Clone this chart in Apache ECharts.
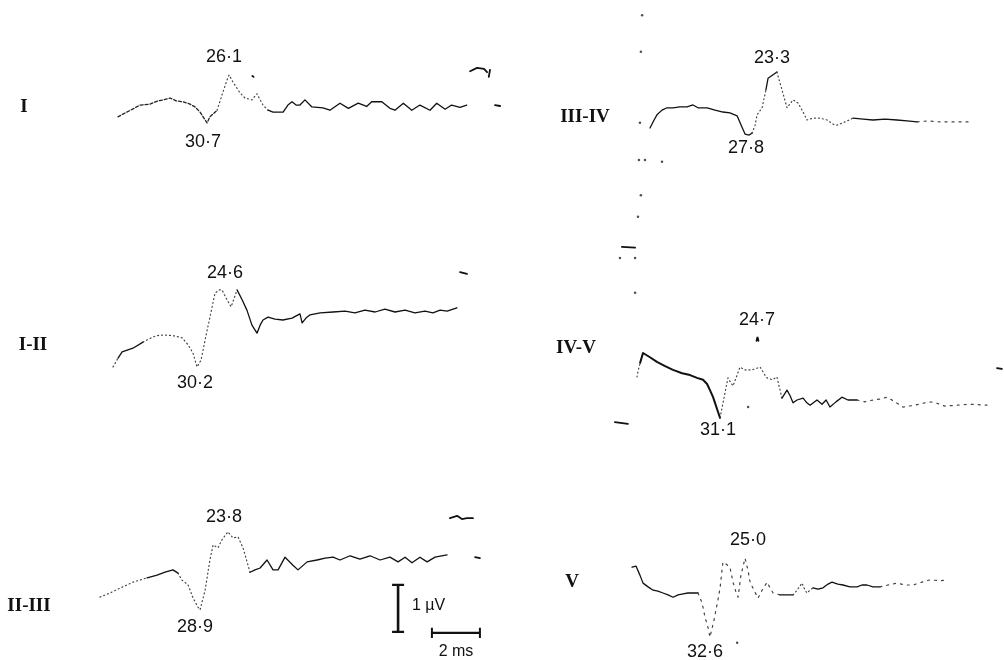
<!DOCTYPE html>
<html><head><meta charset="utf-8">
<script src="https://cdn.jsdelivr.net/npm/echarts@6/dist/echarts.min.js"></script>
<style>html,body{margin:0;padding:0;background:#fff}#c{width:1004px;height:660px}</style>
</head><body><div id="c"></div><script>
// ---------------- DATA (time in ms from trace start, amplitude in µV) ----------------
const traceNames   = ['I', 'I-II', 'II-III', 'III-IV', 'IV-V', 'V'];
const peakLabels   = ['26·1', '24·6', '23·8', '23·3', '24·7', '25·0'];
const troughLabels = ['30·7', '30·2', '28·9', '27·8', '31·1', '32·6'];

const traceI = [[0,-0.23],[0.29,-0.15],[0.63,-0.06],[0.92,0.02],[1.33,0.04],[1.67,0.11],[1.88,0.13],[2.17,0.17],[2.42,0.11],[2.71,0.09],[3.0,0.04],[3.21,-0.02],[3.42,-0.13],[3.71,-0.36],[3.83,-0.23],[4.13,-0.09],[4.33,0.23],[4.54,0.55],[4.63,0.66],[4.79,0.51],[5.08,0.28],[5.29,0.17],[5.58,0.13],[5.79,0.26],[6.04,0.02],[6.25,-0.09],[6.46,-0.13],[6.88,-0.13],[7.08,0.02],[7.25,0.09],[7.42,0.02],[7.58,0.02],[7.79,0.13],[8.08,-0.02],[8.54,-0.04],[8.83,-0.09],[9.25,0.06],[9.6,-0.05],[10.01,0.06],[10.36,-0.01],[10.57,0.09],[10.99,0.09],[11.33,-0.05],[11.54,-0.09],[11.89,0.06],[12.24,-0.09],[12.58,0.02],[13.0,-0.09],[13.28,0.06],[13.63,-0.07],[13.9,0.02],[14.25,-0.03],[14.53,0.02]];
const fragmentsI = [[[5.6,0.64],[5.65,0.62]],[[14.67,0.74],[14.96,0.81],[15.25,0.79],[15.38,0.72]],[[15.5,0.77],[15.45,0.62]],[[15.71,0.02],[15.92,0.0]]];

const traceI_II = [[0,-1.17],[0.21,-0.98],[0.38,-0.85],[0.83,-0.77],[1.25,-0.64],[1.67,-0.53],[1.96,-0.49],[2.25,-0.49],[2.58,-0.51],[2.88,-0.55],[3.13,-0.70],[3.33,-0.87],[3.5,-1.17],[3.67,-1.02],[3.88,-0.49],[4.04,-0.11],[4.25,0.40],[4.42,0.47],[4.54,0.47],[4.75,0.26],[4.92,0.11],[5.17,0.47],[5.38,0.26],[5.58,0.04],[5.79,-0.28],[6.0,-0.45],[6.13,-0.28],[6.25,-0.17],[6.46,-0.11],[6.75,-0.15],[7.08,-0.17],[7.46,-0.13],[7.79,-0.04],[7.88,-0.23],[8.04,-0.13],[8.21,-0.06],[8.63,-0.02],[9.17,0],[9.67,0.02],[10.08,-0.02],[10.5,0.04],[10.92,0],[11.33,0.06],[11.75,0],[12.17,0.04],[12.58,-0.02],[13.0,0.02],[13.33,-0.02],[13.63,0.04],[13.92,0.02],[14.33,0.09]];
const fragmentsI_II = [[[14.46,0.85],[14.75,0.81]]];

const traceII_III = [[0,-0.79],[0.42,-0.70],[0.83,-0.60],[1.38,-0.47],[1.96,-0.38],[2.38,-0.32],[2.71,-0.26],[3.04,-0.21],[3.25,-0.28],[3.42,-0.43],[3.67,-0.53],[3.88,-0.81],[4.08,-1.0],[4.17,-1.06],[4.38,-0.64],[4.58,0],[4.71,0.32],[4.92,0.26],[5.08,0.43],[5.33,0.60],[5.54,0.47],[5.75,0.49],[5.96,0.26],[6.25,-0.26],[6.46,-0.21],[6.67,-0.17],[6.96,0],[7.21,-0.21],[7.42,-0.21],[7.71,0.06],[8.04,-0.11],[8.25,-0.21],[8.63,-0.04],[9.04,0],[9.38,0.04],[9.71,0.06],[10.0,0],[10.42,0.09],[10.83,0.02],[11.25,0.09],[11.67,0],[12.08,0.06],[12.42,-0.04],[12.71,0.06],[13.0,-0.06],[13.33,0.06],[13.63,-0.04],[13.96,0.06],[14.46,0.11]];
const fragmentsII_III = [[[14.58,0.89],[14.88,0.94],[15.08,0.87],[15.29,0.89],[15.54,0.89]],[[15.63,0.06],[15.83,0.04]]];

const traceIII_IV = [[0,-0.17],[0.17,0],[0.29,0.11],[0.5,0.21],[0.71,0.26],[0.96,0.26],[1.25,0.28],[1.54,0.28],[1.79,0.32],[2.0,0.26],[2.38,0.26],[2.71,0.21],[3.04,0.17],[3.33,0.15],[3.63,0.09],[3.83,-0.15],[3.96,-0.30],[4.13,-0.32],[4.25,-0.28],[4.38,-0.11],[4.46,0.11],[4.67,0.26],[4.83,0.64],[4.92,0.89],[5.29,1.02],[5.5,0.64],[5.71,0.26],[5.83,0.34],[5.96,0.43],[6.17,0.36],[6.38,0.17],[6.54,0],[6.79,0.04],[7.08,0.04],[7.38,0],[7.63,-0.09],[7.79,-0.11],[8.13,-0.04],[8.46,0.04],[8.88,0.02],[9.29,0],[9.79,0.02],[10.29,0],[10.71,-0.02],[11.13,-0.04],[11.58,-0.02],[12.08,-0.04],[12.71,-0.04],[13.46,-0.04]];
const fragmentsIII_IV = [];
const specksIII_IV = [[-0.33,2.23],[-0.38,1.45],[-0.42,-0.06],[-0.46,-0.85],[-0.21,-0.85],[0.5,-0.89],[-0.38,-1.6],[-0.5,-2.06]];

const traceIV_V = [[0,0.49],[0.04,0.6],[0.13,0.79],[0.25,1.0],[0.54,0.91],[0.83,0.81],[1.17,0.72],[1.5,0.64],[1.88,0.57],[2.21,0.53],[2.5,0.47],[2.75,0.43],[2.92,0.34],[3.04,0.21],[3.17,0.06],[3.25,-0.06],[3.38,-0.26],[3.46,-0.38],[3.79,0.47],[3.92,0.36],[4.0,0.30],[4.17,0.53],[4.29,0.70],[4.5,0.64],[4.79,0.64],[5.13,0.70],[5.33,0.53],[5.42,0.47],[5.63,0.43],[5.83,0.49],[6.04,0.04],[6.25,0.21],[6.38,0.09],[6.5,-0.06],[6.67,0],[6.92,0.04],[7.08,-0.06],[7.21,-0.11],[7.5,0],[7.71,-0.09],[7.88,0],[8.04,-0.15],[8.29,-0.04],[8.54,0.06],[8.79,0],[9.17,0],[9.5,-0.04],[9.83,0],[10.13,0.02],[10.42,0.06],[10.75,-0.04],[11.08,-0.15],[11.58,-0.11],[12.0,-0.06],[12.33,-0.04],[12.83,-0.13],[13.33,-0.11],[13.88,-0.09],[14.58,-0.11]];
const fragmentsIV_V = [[[-0.63,3.26],[-0.08,3.24]],[[-0.92,-0.47],[-0.38,-0.51]],[[15.0,0.68],[15.2,0.66]],[[4.98,1.26],[5.02,1.34],[5.06,1.26]]];
const specksIV_V = [[-0.71,3.02],[-0.08,3.02],[-0.08,2.28],[4.63,-0.15]];

const traceV = [[0,0.38],[0.17,0.40],[0.33,0.21],[0.46,0.04],[0.67,-0.04],[0.88,-0.11],[1.08,-0.13],[1.29,-0.17],[1.5,-0.21],[1.71,-0.26],[1.92,-0.21],[2.13,-0.19],[2.33,-0.17],[2.54,-0.17],[2.75,-0.17],[2.92,-0.38],[3.04,-0.68],[3.17,-0.91],[3.25,-1.11],[3.42,-0.74],[3.58,-0.32],[3.67,-0.06],[3.79,0.49],[3.96,0.43],[4.08,0.38],[4.21,0.06],[4.33,-0.15],[4.42,-0.26],[4.54,0.21],[4.71,0.57],[4.83,0.32],[4.92,0.06],[5.08,-0.11],[5.25,-0.28],[5.42,-0.11],[5.63,0.06],[5.75,-0.06],[5.88,-0.17],[6.17,-0.21],[6.46,-0.21],[6.71,-0.21],[6.88,-0.11],[7.08,0.04],[7.21,-0.11],[7.29,-0.17],[7.42,-0.11],[7.54,-0.06],[7.75,-0.09],[7.96,-0.06],[8.17,0.02],[8.33,0.06],[8.58,0.02],[8.79,0],[9.08,-0.04],[9.38,-0.04],[9.58,0],[9.79,0],[10.04,-0.04],[10.33,-0.04],[10.67,0],[11.04,0.04],[11.38,0],[11.71,0],[12.08,0.06],[12.42,0.11],[12.83,0.09],[13.17,0.11]];
const fragmentsV = [];
const specksV = [[4.38,-1.23]];

const scaleAmplitudeUV = 1;   // scale bar: 1 µV
const scaleTimeMS = 2;        // scale bar: 2 ms

// ---------------- LAYOUT / STYLE ----------------
const W = 1004, PX_MS = 24, PX_UV = 47;
const traces = [traceI, traceI_II, traceII_III, traceIII_IV, traceIV_V, traceV];
const fragments = [fragmentsI, fragmentsI_II, fragmentsII_III, fragmentsIII_IV, fragmentsIV_V, fragmentsV];
const specks = [[], [], [], specksIII_IV, specksIV_V, specksV];
const layout = [
  {x0:118, y0:106, vmin:-1.5, vmax:2.0, ranges:[[0,15,'dashed'],[15,25,'dotted'],[25,null,'solid']],
   name:[24,107], peak:[224,57], trough:[203,142]},
  {x0:113, y0:312, vmin:-1.6, vmax:1.3, ranges:[[0,1,'dotted'],[1,4,'solid'],[4,21,'dotted'],[21,null,'solid']],
   name:[33,345], peak:[225,273], trough:[195,383]},
  {x0:100, y0:560, vmin:-1.9, vmax:1.2, ranges:[[0,4,'dotted'],[4,8,'solid'],[8,23,'dotted'],[23,null,'solid']],
   name:[29,606], peak:[224,517], trough:[195,627]},
  {x0:650, y0:120, vmin:-2.3, vmax:2.4, ranges:[[0,18,'solid'],[18,22,'dotted'],[22,24,'solid'],[24,38,'dotted'],[38,44,'solid'],[44,null,'sparse']],
   name:[585,117], peak:[772,58], trough:[746,148]},
  {x0:637, y0:400, vmin:-1.0, vmax:3.5, ranges:[[0,2,'dotted'],[2,17,'bold'],[17,30,'dotted'],[30,45,'solid'],[45,null,'sparse']],
   name:[576,348], peak:[757,320], trough:[718,430]},
  {x0:632, y0:585, vmin:-1.5, vmax:0.9, ranges:[[0,14,'solid'],[14,38,'sparse'],[38,40,'solid'],[40,46,'dotted'],[46,58,'solid'],[58,null,'sparse']],
   name:[572,582], peak:[748,540], trough:[705,652]}
];
const styles = {
  solid:  {width:1.3, type:'solid', color:'#111'},
  bold:   {width:2.0, type:'solid', color:'#111'},
  dashed: {width:1.3, type:[3,2], color:'#222'},
  dotted: {width:1.2, type:[1,3], color:'#444'},
  sparse: {width:1.2, type:[2,5], color:'#444'}
};
const scaleAnchor = {grid:2, t:12.42, v:-0.53, ht:13.83, hv:-1.55};

const grids = [], xAxes = [], yAxes = [], series = [];
layout.forEach((L, i) => {
  const left = L.x0 - PX_MS;
  const width = Math.min(18 * PX_MS, W - left);   // keep each grid inside the canvas
  grids.push({left: left, top: L.y0 - L.vmax * PX_UV, width: width,
              height: (L.vmax - L.vmin) * PX_UV, containLabel:false});
  xAxes.push({type:'value', gridIndex:i, min:-1, max:-1 + width / PX_MS, show:false});
  yAxes.push({type:'value', gridIndex:i, min:L.vmin, max:L.vmax, show:false});
  const data = traces[i];
  L.ranges.forEach(([a, b, st]) => {
    const end = b === null ? data.length - 1 : b;
    series.push({type:'line', xAxisIndex:i, yAxisIndex:i, data:data.slice(a, end + 1),
      showSymbol:false, symbol:'none', silent:true, clip:false, animation:false,
      lineStyle:Object.assign({}, styles[st], {cap:'round', join:'round'})});
  });
  fragments[i].forEach(f => series.push({type:'line', xAxisIndex:i, yAxisIndex:i, data:f,
      symbol:'none', silent:true, clip:false, animation:false,
      lineStyle:{width:1.8, color:'#111', cap:'round'}}));
  if (specks[i].length) series.push({type:'scatter', xAxisIndex:i, yAxisIndex:i, data:specks[i],
      symbolSize:2.5, silent:true, animation:false, itemStyle:{color:'#222'}});
});

// scale bar (1 µV vertical, 2 ms horizontal)
const sa = scaleAnchor, gi = sa.grid;
const capT = 0.25, capV = 0.11;
const barLines = [
  {d:[[sa.t, sa.v],[sa.t, sa.v - scaleAmplitudeUV]], w:2.6},
  {d:[[sa.t - capT, sa.v],[sa.t + capT, sa.v]], w:2.2},
  {d:[[sa.t - capT, sa.v - scaleAmplitudeUV],[sa.t + capT, sa.v - scaleAmplitudeUV]], w:2.2},
  {d:[[sa.ht, sa.hv],[sa.ht + scaleTimeMS, sa.hv]], w:2.2},
  {d:[[sa.ht, sa.hv + capV],[sa.ht, sa.hv - capV]], w:2.0},
  {d:[[sa.ht + scaleTimeMS, sa.hv + capV],[sa.ht + scaleTimeMS, sa.hv - capV]], w:2.0}
];
barLines.forEach(b => series.push({type:'line', xAxisIndex:gi, yAxisIndex:gi, data:b.d, symbol:'none',
  silent:true, clip:false, animation:false, lineStyle:{width:b.w, color:'#111'}}));

// texts
const graphic = [];
const sans = '"Liberation Sans", Arial, sans-serif';
const serif = '"Liberation Serif", "Times New Roman", serif';
layout.forEach((L, i) => {
  graphic.push({type:'text', x:L.name[0], y:L.name[1], style:{text:traceNames[i],
    font:'bold 19px ' + serif, fill:'#111', align:'center', verticalAlign:'middle'}});
  graphic.push({type:'text', x:L.peak[0], y:L.peak[1], style:{text:peakLabels[i],
    font:'18px ' + sans, fill:'#111', align:'center', verticalAlign:'middle'}});
  graphic.push({type:'text', x:L.trough[0], y:L.trough[1], style:{text:troughLabels[i],
    font:'18px ' + sans, fill:'#111', align:'center', verticalAlign:'middle'}});
});
graphic.push({type:'text', x:412, y:606, style:{text:scaleAmplitudeUV + ' µV', font:'16px ' + sans,
  fill:'#111', align:'left', verticalAlign:'middle'}});
graphic.push({type:'text', x:456, y:652, style:{text:scaleTimeMS + ' ms', font:'16px ' + sans,
  fill:'#111', align:'center', verticalAlign:'middle'}});

const chart = echarts.init(document.getElementById('c'), null, {renderer:'canvas'});
chart.setOption({backgroundColor:'#fff', animation:false, grid:grids, xAxis:xAxes, yAxis:yAxes,
  series:series, graphic:graphic});
</script></body></html>
